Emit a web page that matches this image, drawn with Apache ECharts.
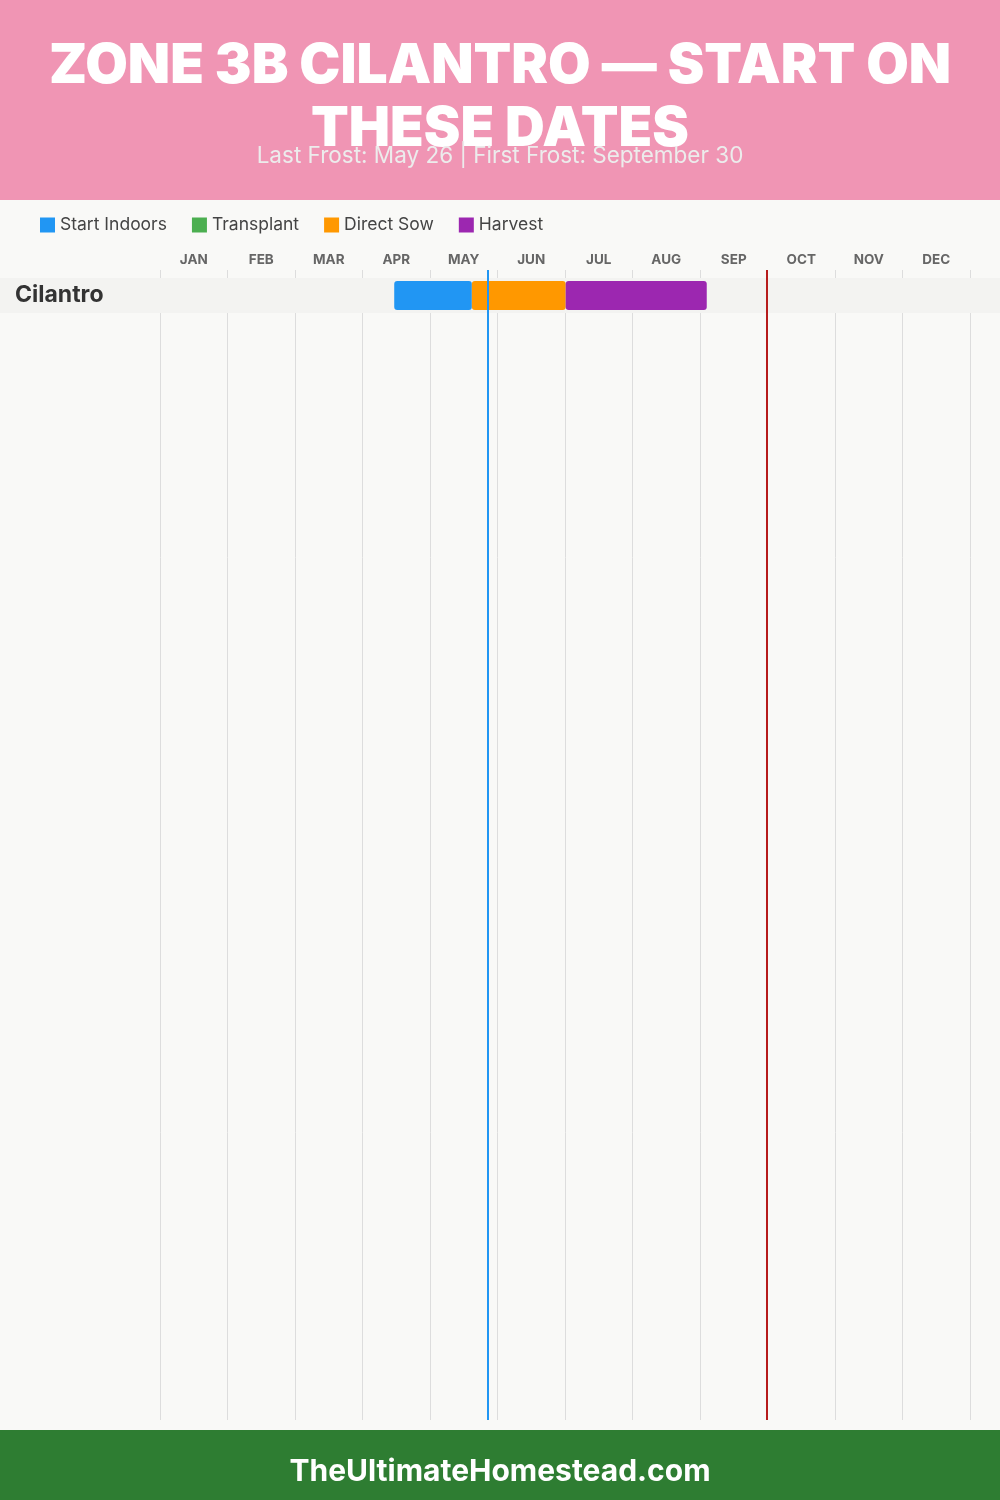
<!DOCTYPE html>
<html>
<head>
<meta charset="utf-8">
<script src="https://cdn.jsdelivr.net/npm/echarts@6/dist/echarts.min.js"></script>
<style>
html,body{margin:0;padding:0;background:#f9f9f7;}
#chart{width:1000px;height:1500px;}
</style>
</head>
<body>
<div id="chart"></div>
<script>
// ---- data (x values in months from Jan 1: 0..12) ----
const months = ['JAN','FEB','MAR','APR','MAY','JUN','JUL','AUG','SEP','OCT','NOV','DEC'];
const crops = ['Cilantro'];
const startIndoors = [[3.47, 4.62, 0]];
const transplant = [];
const directSow = [[4.62, 6.01, 0]];
const harvest = [[6.01, 8.10, 0]];
const lastFrost = 4.86;   // May 26
const firstFrost = 8.99;  // September 30
const rowBands = [[0]];

const titleText = 'ZONE 3B CILANTRO — START ON\nTHESE DATES';
const subtitleText = 'Last Frost: May 26 | First Frost: September 30';
const footerText = 'TheUltimateHomestead.com';

const chart = echarts.init(document.getElementById('chart'), null, {renderer:'canvas'});

function barRender(color){
  return function(params, api){
    const s = api.coord([api.value(0), api.value(2)]);
    const e = api.coord([api.value(1), api.value(2)]);
    const h = api.size([0,1])[1] * 0.83;
    return {type:'rect', shape:{x:s[0], y:s[1]-h/2, width:e[0]-s[0], height:h, r:3}, style:{fill:color}};
  };
}

const option = {
  backgroundColor:'#f9f9f7',
  animation:false,
  textStyle:{fontFamily:'Inter, "Open Sans", sans-serif'},
  graphic:[
    {type:'rect', left:0, top:0, shape:{width:1000, height:200}, style:{fill:'#f095b4'}, z:0},
    {type:'rect', left:0, top:1430, shape:{width:1000, height:70}, style:{fill:'#2e7d32'}, z:0},
    {type:'text', left:'center', top:1457, style:{text:footerText, fill:'#ffffff', font:'bold 30px Inter, sans-serif'}, z:10}
  ],
  title:[
    {text:titleText, left:'center', top:30,
     textStyle:{color:'#ffffff', fontSize:55, fontWeight:900, fontFamily:'Inter, sans-serif', lineHeight:63, align:'center'}},
    {text:subtitleText, left:'center', top:140,
     textStyle:{color:'#ececec', fontSize:22.5, fontWeight:'normal', fontFamily:'Inter, sans-serif'}}
  ],
  legend:{
    left:40, top:216, padding:0, itemWidth:15, itemHeight:15, itemGap:25, icon:'rect',
    textStyle:{color:'#444', fontSize:17.5, fontFamily:'Inter, sans-serif'},
    data:['Start Indoors','Transplant','Direct Sow','Harvest']
  },
  grid:[
    {left:160, right:30, top:270, bottom:80},
    {left:160, right:30, top:278, height:35}
  ],
  xAxis:[
    {gridIndex:0, type:'category', data:months, position:'top', boundaryGap:true,
     axisLine:{show:false}, axisTick:{show:false},
     axisLabel:{color:'#666', fontWeight:'bold', fontSize:13.5, margin:3, fontFamily:'Inter, sans-serif'},
     splitLine:{show:true, interval:0, lineStyle:{color:'#dddddd', width:1}}},
    {gridIndex:0, type:'value', min:0, max:12, show:false},
    {gridIndex:1, type:'value', min:0, max:12, show:false}
  ],
  yAxis:[
    {gridIndex:0, type:'value', min:0, max:1, show:false},
    {gridIndex:1, type:'category', data:crops, inverse:true, z:10,
     axisLine:{show:false}, axisTick:{show:false}, splitLine:{show:false},
     axisLabel:{align:'left', margin:145, fontSize:23, fontWeight:'bold', color:'#333', fontFamily:'Inter, sans-serif', padding:[6,0,0,0]}}
  ],
  series:[
    {type:'custom', name:'band', xAxisIndex:2, yAxisIndex:1, data:rowBands, encode:{y:0}, silent:true, z:1,
     renderItem:function(params, api){
       const c = api.coord([0, api.value(0)]);
       const h = api.size([0,1])[1];
       return {type:'rect', shape:{x:0, y:c[1]-h/2, width:api.getWidth(), height:h}, style:{fill:'#f3f3f1'}};
     }},
    {type:'custom', name:'Start Indoors', xAxisIndex:2, yAxisIndex:1, data:startIndoors, encode:{x:[0,1], y:2}, itemStyle:{color:'#2196f3'}, renderItem:barRender('#2196f3'), z:2},
    {type:'custom', name:'Transplant', xAxisIndex:2, yAxisIndex:1, data:transplant, encode:{x:[0,1], y:2}, itemStyle:{color:'#4caf50'}, renderItem:barRender('#4caf50'), z:2},
    {type:'custom', name:'Direct Sow', xAxisIndex:2, yAxisIndex:1, data:directSow, encode:{x:[0,1], y:2}, itemStyle:{color:'#ff9800'}, renderItem:barRender('#ff9800'), z:2},
    {type:'custom', name:'Harvest', xAxisIndex:2, yAxisIndex:1, data:harvest, encode:{x:[0,1], y:2}, itemStyle:{color:'#9c27b0'}, renderItem:barRender('#9c27b0'), z:2},
    {type:'line', name:'frost', xAxisIndex:1, yAxisIndex:0, data:[], z:5,
     markLine:{silent:true, symbol:['none','none'], label:{show:false},
       data:[
         {xAxis:lastFrost, lineStyle:{color:'#2196f3', width:2, type:'solid'}},
         {xAxis:firstFrost, lineStyle:{color:'#b71c1c', width:2, type:'solid'}}
       ]}}
  ]
};
chart.setOption(option);
</script>
</body>
</html>
